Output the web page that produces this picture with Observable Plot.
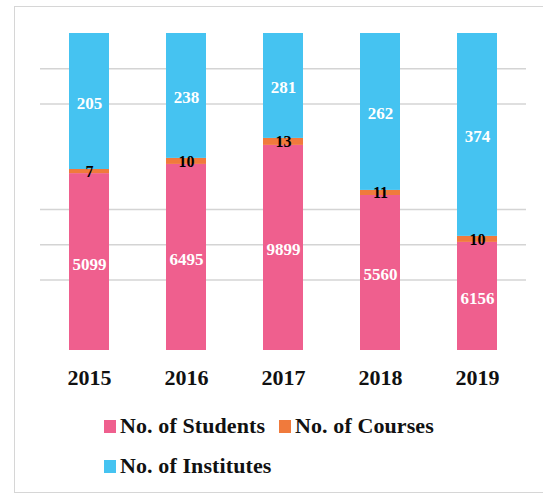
<!DOCTYPE html>
<html>
<head>
<meta charset="utf-8">
<script src="https://cdn.jsdelivr.net/npm/d3@7"></script>
<script src="https://cdn.jsdelivr.net/npm/@observablehq/plot@0.6"></script>
<style>
  html, body { margin: 0; padding: 0; background: #fff; }
  #wrap { position: relative; width: 543px; height: 494px; overflow: hidden; font-family: "Liberation Serif", "Times New Roman", serif; }
  #frame { position: absolute; left: 14px; top: 6px; width: 560px; height: 487px; border: 1.5px solid #d6d6d6; box-sizing: border-box; }
  #chart { position: absolute; left: 0; top: 0; }
  .leg { position: absolute; font-size: 22px; font-weight: bold; line-height: 22px; color: #111; white-space: nowrap; letter-spacing: 0.1px; }
  .sw { position: absolute; width: 12px; height: 13px; }
</style>
</head>
<body>
<div id="wrap">
  <div id="frame"></div>
  <div id="chart"></div>
  <div id="legend"></div>
</div>
<script>
const years = ["2015", "2016", "2017", "2018", "2019"];
const seriesNames = ["No. of Students", "No. of Courses", "No. of Institutes"];
const seriesColors = ["#EF5F8E", "#F07A3C", "#45C3F1"];
// value labels
const students = [5099, 6495, 9899, 5560, 6156];
const courses = [7, 10, 13, 11, 10];
const institutes = [205, 238, 281, 262, 374];
// share of each bar's height (%)
const studentShare = [55.8, 58.7, 64.7, 48.9, 34.1];
const courseShare = [1.3, 1.9, 2.2, 1.6, 1.9];
const instituteShare = [42.9, 39.4, 33.1, 49.5, 64.0];
// gridline positions (% of bar height)
const gridLines = [2, 3, 4, 7, 8].map(k => k * 100 / 9);

const labels = [students, courses, institutes];
const shares = [studentShare, courseShare, instituteShare];
const rows = [];
years.forEach((y, i) => {
  seriesNames.forEach((s, j) => {
    rows.push({year: y, series: s, share: shares[j][i], label: String(labels[j][i])});
  });
});

const chart = Plot.plot({
  width: 543,
  height: 400,
  marginTop: 33,
  marginBottom: 50,
  marginLeft: 40,
  marginRight: 17,
  style: {background: "transparent", fontFamily: "'Liberation Serif', serif", color: "#111"},
  x: {domain: years, paddingInner: 0.587, paddingOuter: 0.2935, label: null},
  y: {domain: [0, 100], axis: null},
  color: {domain: seriesNames, range: seriesColors},
  marks: [
    Plot.ruleY(gridLines, {stroke: "#d4d4d4", strokeWidth: 1.5}),
    Plot.barY(rows, Plot.stackY({x: "year", y: "share", fill: "series", z: "series"})),
    Plot.text(rows, Plot.stackY({x: "year", y: "share", z: "series",
      text: d => d.series === "No. of Courses" ? "" : d.label,
      fill: "white", fontSize: 17, fontWeight: "bold", dy: 2})),
    Plot.text(rows, Plot.stackY({x: "year", y: "share", z: "series",
      text: d => d.series === "No. of Courses" ? d.label : "",
      fill: "black", fontSize: 16, fontWeight: "bold"})),
    Plot.axisX({tickSize: 0, tickPadding: 19, fontSize: 22, fontWeight: "bold", label: null})
  ]
});
document.getElementById("chart").appendChild(chart);

// legend
const legendItems = [
  {name: seriesNames[0], color: seriesColors[0], sx: 104, sy: 420, tx: 120, ty: 415},
  {name: seriesNames[1], color: seriesColors[1], sx: 279, sy: 420, tx: 295, ty: 415},
  {name: seriesNames[2], color: seriesColors[2], sx: 104, sy: 460, tx: 120, ty: 455}
];
const leg = document.getElementById("legend");
legendItems.forEach(it => {
  const sw = document.createElement("div");
  sw.className = "sw";
  sw.style.left = it.sx + "px"; sw.style.top = it.sy + "px"; sw.style.background = it.color;
  leg.appendChild(sw);
  const t = document.createElement("div");
  t.className = "leg";
  t.style.left = it.tx + "px"; t.style.top = it.ty + "px";
  t.textContent = it.name;
  leg.appendChild(t);
});
</script>
</body>
</html>
